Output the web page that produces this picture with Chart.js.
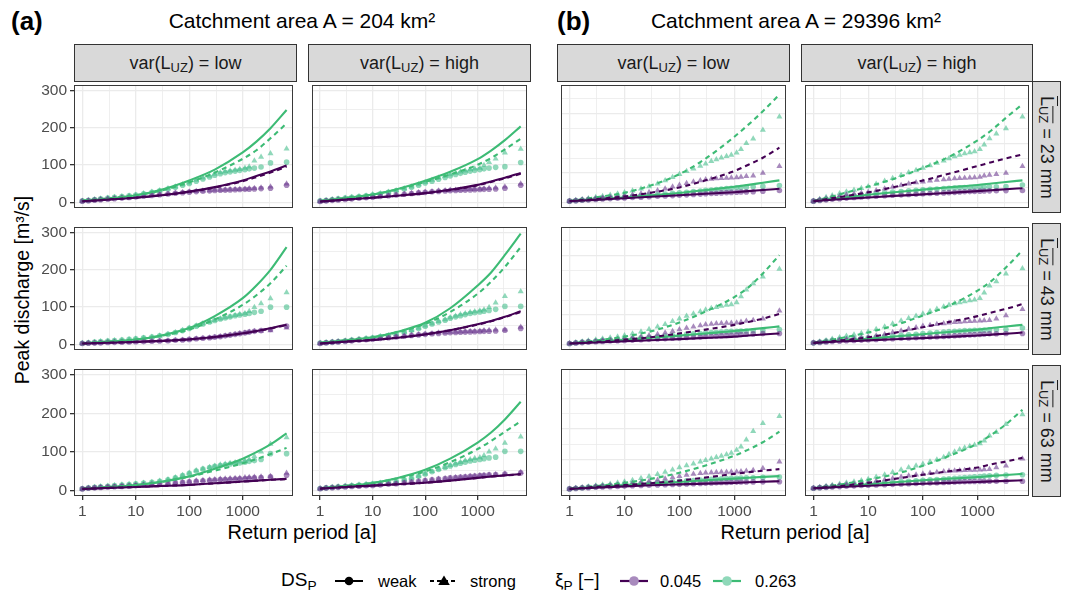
<!DOCTYPE html>
<html>
<head>
<meta charset="utf-8">
<script src="https://cdn.jsdelivr.net/npm/chart.js@4.4.1/dist/chart.umd.min.js"></script>
<style>
  body { margin: 0; width: 1066px; height: 596px; background: #fff; position: relative; overflow: hidden;
         font-family: "Liberation Sans", Arial, Helvetica, sans-serif; color: #000; }
  .abs { position: absolute; white-space: nowrap; }
  canvas.panel { position: absolute; }
  .strip { position: absolute; background: #d9d9d9; border: 1px solid #333; box-sizing: border-box;
           display: flex; align-items: center; justify-content: center; font-size: 18px; color: #1a1a1a; white-space: nowrap; }
  .strip.side { writing-mode: vertical-rl; font-size: 18px; }
  .sub { font-size: 0.72em; position: relative; top: 0.28em; }
  .side .sub { top: 0; left: -0.28em; }
  .over { text-decoration: overline; }
  .tag { font-weight: bold; font-size: 26px; }
  .title { font-size: 21px; transform: translateX(-50%); }
  .axtitle { font-size: 20px; transform: translateX(-50%); }
  .leg { font-size: 16.5px; }
  .legt { font-size: 19px; }
</style>
</head>
<body>
<div class="abs tag" style="left:11px;top:6px">(a)</div>
<div class="abs title" style="left:302px;top:9px">Catchment area A = 204 km²</div>
<div class="abs tag" style="left:557px;top:6px">(b)</div>
<div class="abs title" style="left:796px;top:9px">Catchment area A = 29396 km²</div>
<div class="abs" style="left:22px;top:290px;font-size:19.5px;transform:translate(-50%,-50%) rotate(-90deg)">Peak discharge [m³/s]</div>
<div class="abs axtitle" style="left:302px;top:521px">Return period [a]</div>
<div class="abs axtitle" style="left:795px;top:521px">Return period [a]</div>

<!-- legend -->
<div class="abs legt" style="left:281px;top:569px">DS<span class="sub">P</span></div>
<svg class="abs" style="left:334px;top:574px" width="30" height="14">
  <line x1="1" y1="7" x2="29" y2="7" stroke="#000" stroke-width="2"/>
  <circle cx="15" cy="7" r="4.3" fill="#000"/>
</svg>
<div class="abs leg" style="left:378px;top:572px">weak</div>
<svg class="abs" style="left:429px;top:574px" width="30" height="14">
  <line x1="1" y1="7" x2="29" y2="7" stroke="#000" stroke-width="2" stroke-dasharray="4 3"/>
  <polygon points="15,1.5 20.8,11 9.2,11" fill="#000"/>
</svg>
<div class="abs leg" style="left:470px;top:572px">strong</div>
<div class="abs legt" style="left:555px;top:569px">ξ<span class="sub">P</span> [−]</div>
<svg class="abs" style="left:619px;top:574px" width="30" height="14">
  <line x1="1" y1="7" x2="29" y2="7" stroke="#440154" stroke-width="2.2"/>
  <circle cx="15" cy="7" r="4.8" fill="#a88abd"/>
</svg>
<div class="abs leg" style="left:660px;top:572px">0.045</div>
<svg class="abs" style="left:712px;top:574px" width="30" height="14">
  <line x1="1" y1="7" x2="29" y2="7" stroke="#3dbb75" stroke-width="2.2"/>
  <circle cx="15" cy="7" r="4.8" fill="#8fd8b9"/>
</svg>
<div class="abs leg" style="left:755px;top:572px">0.263</div>

<script>
// return periods of the fitted curves and of the empirical (plotting position) points
const T_FIT = [1, 3, 10, 30, 100, 300, 1000, 1800, 3300, 6600];
const T_OBS = [1, 1.3, 1.7, 2.2, 3, 4, 5.5, 7.5, 10, 14, 20, 28, 40, 55, 75, 100, 135, 180, 240, 300,
               380, 470, 580, 720, 880, 1100, 1320, 1650, 2200, 3300, 6600];

// x grid (log) and labels
const X_GRID = [1, 3.1623, 10, 31.623, 100, 316.23, 1000, 3162.3];
const X_LABELS = ["1", "", "10", "", "100", "", "1000", ""];

// each block: [weak/0.045, strong/0.045, weak/0.263, strong/0.263]
// (a) A = 204 km²
const fitA23Low = [
  [3, 7.5, 12.5, 19, 29, 41, 59, 71, 83, 99],
  [3, 7.5, 12.5, 19, 28.5, 40, 57, 68, 80, 96],
  [4, 10, 19, 34, 59, 88, 134, 163, 199, 248],
  [5, 11, 19, 32, 54, 80, 117, 140, 172, 212]
];
const obsA23Low = [
  [3,4.5,6,7,8.5,10,11.5,13,14.5,16.5,18.5,20.5,22.5,24.5,26,27.5,29,30,31,32,32.5,33,33.5,34,34.5,35,35.5,36,37,38,46],
  [3,4.5,6,7.5,9,10.5,12,13.5,15,17,19,21,23,25,27,28.5,30,31,32,33,33.5,34,34.5,35,35.5,36,37,38,39,42,50],
  [4,5.5,7.5,9.5,11.5,13.5,15.5,17.5,19.5,23,27,31,36,41,46,51,57,63,68,73,77,80,82,84,86,88,90,92,95,106,108],
  [4,6,8,10,12,14,16,18,20,24,28,32,37,42,48,53,60,66,71,76,80,83,85,87,89,92,96,112,122,131,144]
];
const fitA23High = [
  [2.5, 7.5, 12.5, 18, 25, 34, 47, 56, 66, 79],
  [2.5, 7.5, 12.5, 18, 24.5, 33, 46, 55, 64.5, 77],
  [4, 12, 21, 36, 58, 82, 116, 139, 167, 204],
  [4, 12, 21, 35, 55, 75, 101, 119, 142, 171]
];
const obsA23High = [
  [2.5,4,5.5,6.5,8,9.5,11,12.5,14,16,18,20,22,24,25.5,27,28.5,29.5,30.5,31.5,32,32.5,33,33.5,34,34.5,35,35.5,36,38,46],
  [2.5,4,5.5,7,8.5,10,11.5,13,14.5,16.5,18.5,20.5,22.5,24.5,26.5,28,29.5,31,32,33,33.5,34,34.5,35,35.5,36,37,38,39,42,50],
  [4,5.5,7.5,9.5,11.5,13.5,15.5,17.5,20,23,27,31,36,41,46,52,57,62,67,71,75,78,81,84,86,88,90,92,94,96,107],
  [4,6,8,10,12,14,16,18,21,24,28,32,37,42,48,54,60,66,71,75,79,82,85,88,90,92,100,108,117,133,143]
];
const fitA43Low = [
  [2.5, 4.5, 6.7, 9.5, 13.5, 20, 30, 36, 43.5, 53],
  [2.5, 4.5, 6.7, 9.5, 13.5, 20, 29.5, 35.5, 42.5, 52],
  [2.5, 7.5, 13, 24, 44, 76, 124, 158, 200, 261],
  [2.5, 7.5, 13, 23, 40, 67, 106, 132, 164, 211]
];
const obsA43Low = [
  [2.5,3,3.5,4,5,5.5,6,6.5,7,7.5,8.5,9,10,11,12,13.5,15,16.5,18,19.5,21,23,25,27,29,31,33,35,37,40,49],
  [2.5,3,3.5,4,5,5.5,6,6.5,7,7.5,8.5,9,10,11,12,13.5,15,16.5,18,19.5,21,23,25,27,29,31,33,35,36,37,45],
  [3,4.5,6,7.5,9,10.5,12,13.5,15,17.5,20,23,27,32,37,43,49,55,60,64,68,71,74,77,79,81,83,86,89,100,100],
  [3,4.5,6,7.5,9,10.5,12,13.5,15,17.5,20,23,27,32,38,44,50,56,61,65,69,72,75,78,81,83,89,100,110,123,139]
];
const fitA43High = [
  [2.5, 7.5, 12, 18, 27, 38, 54, 63, 74, 89],
  [2.5, 7.5, 12, 18, 27, 38, 53, 62, 73, 87],
  [4, 11, 19, 34, 58, 97, 158, 193, 240, 297],
  [4, 11, 19, 33, 55, 87, 136, 168, 208, 261]
];
const obsA43High = [
  [2.5,4,5.5,6.5,8,9.5,11,12.5,14,16,18,20,22,24,25.5,27,28.5,29.5,30.5,31.5,32,32.5,33,33.5,34,34.5,35,35.5,36,38,43],
  [2.5,4,5.5,7,8.5,10,11.5,13,14.5,16.5,18.5,20.5,22.5,24.5,26.5,28,29.5,31,32,33,33.5,34,34.5,35,35.5,36,37,38,39,39,47],
  [3.5,5,6.5,8,10,12,14,16,18,21,24,28,33,38,43,49,55,60,65,70,74,77,80,83,85,87,89,91,94,102,102],
  [3.5,5,6.5,8,10,12,14,16,18,21,24,28,33,38,44,50,56,62,67,72,76,80,83,86,88,90,93,100,112,129,142]
];
const fitA63Low = [
  [3.4, 6, 8.4, 11, 14, 18, 22.5, 25, 27.3, 29.5],
  [3.4, 6, 8.4, 11, 14, 18, 22.3, 24.7, 27, 29],
  [3.4, 8, 13.5, 22, 36, 56, 82, 99, 119, 148],
  [3.4, 8, 13.5, 21.5, 35, 51, 70, 81, 94, 110]
];
const obsA63Low = [
  [3.5,5,6,7,8,9,10,11,12,13,14.5,16,17.5,19,20.5,22,23.5,24.5,25.5,26.5,27.5,28,28.5,29,29.5,30,31,32,33,35,39],
  [3.5,5,6,7,8,9,10,11,12,13.5,15,16.5,18,20,21.5,23,24.5,26,27,28,29,30,30.5,31,32,33,34,34.5,35,36,45],
  [4,6,7.5,9,10.5,12,13.5,15,16.5,18.5,20.5,23,27,32,38,44,50,55,59,62,64,66,68,70,71,73,75,77,80,95,95],
  [4,6,8,9.5,11,12.5,14,15.5,17,19,21,24,28,33,39,45,51,56,60,63,66,68,70,72,74,76,80,88,100,120,137]
];
const fitA63High = [
  [4.2, 8.4, 12, 15.5, 19.5, 25, 32, 35.5, 39, 42],
  [4.2, 8.4, 12, 15.5, 19.5, 25, 32, 35.5, 38.5, 41],
  [5, 11, 19, 32, 53, 82, 124, 150, 184, 230],
  [5, 11, 19, 31, 49, 73, 107, 128, 152, 179]
];
const obsA63High = [
  [4,5.5,6.5,7.5,8.5,9.5,10.5,11.5,12.5,14,15.5,17,19,21,23,25,27,29,30.5,32,33,34,35,36,37,38,39,40,41,42,45],
  [4,5.5,6.5,7.5,8.5,9.5,10.5,11.5,12.5,14,15.5,17,19,21,23,25,27,29,30.5,32,33,34,35,36,37,38,39,40,41,43,47],
  [4.5,6,7.5,9,10.5,12,13.5,15,16.5,18.5,21,23.5,27,31,36,42,48,54,59,63,67,70,73,76,78,80,82,84,86,101,101],
  [4.5,6,8,9.5,11,12.5,14,15.5,17,19,21.5,24,28,32,37,43,49,55,60,65,69,73,77,80,83,85,90,100,108,123,139]
];

// (b) A = 29396 km²
const fitB23Low = [
  [42, 85, 140, 190, 240, 290, 345, 380, 418, 460],
  [42, 115, 200, 325, 505, 745, 1060, 1275, 1510, 1850],
  [42, 100, 165, 240, 320, 415, 530, 592, 665, 745],
  [42, 170, 325, 570, 955, 1480, 2220, 2630, 3080, 3650]
];
const obsB23Low = [
  [42,55,70,85,100,115,128,140,150,163,176,190,205,218,230,242,255,268,280,290,300,310,320,330,338,345,350,355,360,380,400],
  [42,60,85,105,130,155,180,200,225,260,300,345,400,460,525,590,650,700,740,770,790,805,815,825,835,845,860,880,900,990,1220],
  [42,60,80,100,120,140,155,170,185,205,225,245,265,285,305,325,345,365,385,405,420,435,450,465,480,495,505,515,525,540,570],
  [42,70,100,130,170,210,250,290,335,395,465,540,630,740,850,955,1050,1140,1230,1310,1390,1450,1510,1560,1600,1680,1800,2000,2150,2450,2900]
];
const fitB23High = [
  [42, 105, 165, 220, 270, 322, 380, 412, 445, 480],
  [42, 180, 340, 520, 740, 970, 1230, 1360, 1490, 1620],
  [42, 150, 260, 345, 430, 510, 590, 640, 690, 745],
  [42, 270, 535, 800, 1165, 1540, 2100, 2440, 2860, 3320]
];
const obsB23High = [
  [42,65,85,105,125,145,165,180,195,210,225,240,255,268,280,290,300,310,320,330,340,350,358,365,372,380,385,390,395,398,400],
  [42,90,130,170,215,255,290,320,350,400,460,520,580,630,670,700,730,755,775,790,805,815,825,835,845,860,900,930,955,990,1220],
  [42,75,105,135,165,195,225,250,275,300,325,350,370,390,410,425,440,455,465,475,485,495,500,505,510,515,520,525,530,535,590],
  [42,110,170,230,300,360,420,480,535,620,720,820,920,1010,1090,1165,1250,1330,1410,1480,1550,1600,1650,1690,1720,1800,1950,2160,2320,2500,2900]
];
const fitB43Low = [
  [31, 65, 105, 142, 178, 220, 262, 298, 332, 370],
  [31, 84, 157, 240, 370, 500, 660, 760, 870, 1030],
  [31, 95, 157, 225, 295, 370, 450, 500, 550, 610],
  [31, 130, 262, 440, 740, 1110, 1600, 1930, 2400, 3020]
];
const obsB43Low = [
  [31,45,60,75,88,100,112,122,132,145,158,170,183,195,208,220,232,244,255,265,275,285,295,305,315,325,335,345,355,365,370],
  [31,50,70,90,110,130,150,170,195,225,260,300,345,390,440,500,550,600,640,670,690,705,715,720,725,735,760,790,820,870,1135],
  [31,55,75,95,115,135,150,165,180,200,220,240,260,280,300,320,340,355,370,385,400,410,420,430,440,445,450,455,460,470,505],
  [31,60,90,120,155,190,225,260,300,360,430,510,600,680,780,870,960,1040,1110,1170,1220,1260,1300,1330,1350,1420,1620,1850,2060,2290,2550]
];
const fitB43High = [
  [52, 95, 136, 175, 212, 255, 298, 330, 362, 400],
  [52, 130, 240, 390, 580, 760, 955, 1080, 1200, 1365],
  [52, 125, 190, 265, 345, 420, 500, 555, 605, 660],
  [52, 205, 400, 640, 975, 1310, 1820, 2150, 2600, 3180]
];
const obsB43High = [
  [52,65,80,95,110,122,134,145,155,167,180,192,205,218,230,240,250,260,270,280,290,300,310,320,330,340,350,358,362,366,370],
  [52,75,100,125,150,175,200,225,250,290,340,400,460,520,570,620,650,680,710,730,750,760,770,780,790,800,810,820,870,975,1190],
  [52,80,110,135,160,180,195,210,225,245,265,285,305,325,345,365,385,400,415,430,445,455,465,470,475,480,485,490,495,500,555],
  [52,90,135,180,230,280,330,380,430,510,600,700,800,880,960,1040,1120,1200,1270,1330,1380,1420,1450,1480,1510,1560,1750,1980,2130,2390,2570]
];
const fitB63Low = [
  [42, 85, 126, 160, 190, 215, 240, 260, 278, 295],
  [42, 110, 168, 230, 315, 415, 535, 590, 640, 690],
  [42, 100, 165, 220, 270, 322, 380, 410, 435, 460],
  [42, 137, 240, 370, 570, 810, 1130, 1330, 1570, 1920]
];
const obsB63Low = [
  [42,55,70,82,95,105,115,125,135,145,155,163,172,180,188,196,204,212,220,228,236,244,250,256,261,265,268,270,272,274,275],
  [42,60,80,100,120,140,160,180,200,230,260,295,335,375,420,460,500,530,555,570,580,588,594,598,602,606,615,630,650,715,935],
  [42,60,80,100,120,140,155,170,185,200,215,230,245,260,275,290,305,320,335,345,355,365,372,380,387,393,400,405,410,420,430],
  [42,65,90,115,145,175,205,240,275,330,390,450,520,600,670,745,810,870,930,980,1030,1080,1120,1170,1220,1320,1420,1650,1930,2195,2425]
];
const fitB63High = [
  [63, 105, 147, 180, 210, 240, 270, 288, 305, 325],
  [63, 135, 240, 370, 505, 620, 745, 850, 940, 1060],
  [63, 125, 190, 258, 325, 380, 430, 468, 500, 535],
  [63, 185, 345, 520, 800, 1120, 1530, 1820, 2160, 2635]
];
const obsB63High = [
  [63,78,92,106,118,130,142,152,162,172,182,192,202,212,222,232,240,248,256,263,270,276,281,285,288,290,291,292,293,294,295],
  [63,85,110,135,160,185,210,235,260,300,340,385,430,475,510,540,565,590,610,625,637,647,655,660,665,670,680,690,745,800,1030],
  [63,85,105,125,145,165,180,195,210,228,245,262,280,295,310,325,340,352,364,376,388,400,412,424,436,448,460,472,484,495,505],
  [63,95,130,165,200,240,280,320,360,430,510,590,670,740,800,860,930,1000,1080,1180,1260,1330,1390,1440,1480,1530,1620,1780,1900,2160,2480]
];

const COL_HEADS = ["low", "high"];
const ROW_HEADS = ["23", "43", "63"];

// styles per series, same order as the blocks above
const SERIES = [
  { line: "#440154", pts: "rgba(110,60,145,0.6)", dash: [], shape: "circle", r: 2.8 },
  { line: "#440154", pts: "rgba(110,60,145,0.6)", dash: [5, 4], shape: "triangle", r: 3.5 },
  { line: "#3dbb75", pts: "rgba(70,190,140,0.6)", dash: [], shape: "circle", r: 2.8 },
  { line: "#3dbb75", pts: "rgba(70,190,140,0.6)", dash: [5, 4], shape: "triangle", r: 3.5 }
];

// panel layout
const COL_L = [74, 308, 557, 801];
const COL_R = [297, 531, 790, 1033];
const ROW_T = [81, 223, 365];
const PANEL_H = 131;
const FONT = '"Liberation Sans", Arial, sans-serif';

const PANELS = [
  { fit: fitA23Low,  obs: obsA23Low,  col: 0, row: 0 }, { fit: fitA23High, obs: obsA23High, col: 1, row: 0 },
  { fit: fitA43Low,  obs: obsA43Low,  col: 0, row: 1 }, { fit: fitA43High, obs: obsA43High, col: 1, row: 1 },
  { fit: fitA63Low,  obs: obsA63Low,  col: 0, row: 2 }, { fit: fitA63High, obs: obsA63High, col: 1, row: 2 },
  { fit: fitB23Low,  obs: obsB23Low,  col: 2, row: 0 }, { fit: fitB23High, obs: obsB23High, col: 3, row: 0 },
  { fit: fitB43Low,  obs: obsB43Low,  col: 2, row: 1 }, { fit: fitB43High, obs: obsB43High, col: 3, row: 1 },
  { fit: fitB63Low,  obs: obsB63Low,  col: 2, row: 2 }, { fit: fitB63High, obs: obsB63High, col: 3, row: 2 }
];

// frame around each panel
const panelFrame = {
  id: "panelFrame",
  afterDatasetsDraw(chart) {
    const { ctx, chartArea: a } = chart;
    ctx.save();
    ctx.strokeStyle = "#3a3a3a";
    ctx.lineWidth = 1;
    ctx.strokeRect(a.left + 0.5, a.top + 0.5, a.width - 1, a.height - 1);
    ctx.restore();
  }
};

function addStrips() {
  for (let c = 0; c < 4; c++) {
    const d = document.createElement("div");
    d.className = "strip";
    d.style.left = COL_L[c] + "px";
    d.style.top = "44px";
    d.style.width = (COL_R[c] - COL_L[c]) + "px";
    d.style.height = "38px";
    d.innerHTML = '<span>var(L<span class="sub">UZ</span>) = ' + COL_HEADS[c % 2] + "</span>";
    document.body.appendChild(d);
  }
  for (let r = 0; r < 3; r++) {
    const d = document.createElement("div");
    d.className = "strip side";
    d.style.left = "1032px";
    d.style.top = ROW_T[r] + "px";
    d.style.width = "29px";
    d.style.height = (PANEL_H + 1) + "px";
    d.innerHTML = '<span><span class="over">L<span class="sub">UZ</span></span>&nbsp;= ' + ROW_HEADS[r] + " mm</span>";
    document.body.appendChild(d);
  }
}

function makePanel(p) {
  const big = p.col >= 2;
  const leftAxis = p.col === 0;
  const bottom = p.row === 2;
  const axW = leftAxis ? 34 : 0;
  const axH = bottom ? 30 : 0;
  const plotW = COL_R[p.col] - COL_L[p.col];

  const cv = document.createElement("canvas");
  cv.className = "panel";
  cv.width = plotW + axW;
  cv.height = PANEL_H + axH;
  cv.style.left = (COL_L[p.col] - axW) + "px";
  cv.style.top = ROW_T[p.row] + "px";
  document.body.appendChild(cv);

  const yMin = big ? -190 : -15;
  const yMax = big ? 3970 : 315;
  const yStep = big ? 500 : 50;
  const yTop = big ? 3500 : 300;
  const yGrid = [];
  for (let v = 0; v <= yTop; v += yStep) yGrid.push(v);

  const datasets = [];
  // fitted curves first so they sit on top of the points
  p.fit.forEach((vals, i) => {
    const s = SERIES[i];
    datasets.push({
      data: T_FIT.map((t, k) => ({ x: t, y: vals[k] })),
      borderColor: s.line,
      borderWidth: 2.1,
      borderDash: s.dash,
      pointRadius: 0,
      cubicInterpolationMode: "monotone",
      fill: false
    });
  });
  p.obs.forEach((vals, i) => {
    const s = SERIES[i];
    datasets.push({
      data: T_OBS.map((t, k) => ({ x: t, y: vals[k] })),
      showLine: false,
      pointStyle: s.shape,
      pointRadius: s.r,
      pointBackgroundColor: s.pts,
      pointBorderWidth: 0,
      pointBorderColor: "rgba(0,0,0,0)"
    });
  });

  new Chart(cv.getContext("2d"), {
    type: "line",
    data: { datasets },
    options: {
      responsive: false,
      animation: false,
      devicePixelRatio: 1,
      layout: { padding: 0 },
      plugins: { legend: { display: false }, tooltip: { enabled: false } },
      scales: {
        x: {
          type: "logarithmic",
          min: 0.73,
          max: 8700,
          afterBuildTicks: s => { s.ticks = X_GRID.map(v => ({ value: v })); },
          afterFit: s => { s.height = axH; s.paddingLeft = 0; s.paddingRight = 0; },
          ticks: {
            display: bottom, autoSkip: false, maxRotation: 0, padding: 2,
            color: "#4d4d4d", font: { size: 15.5, family: FONT },
            callback: (v, i) => X_LABELS[i]
          },
          grid: {
            color: "#ebebeb",
            lineWidth: c => (c.index % 2 === 0 ? 1.3 : 0.8),
            drawTicks: bottom,
            tickLength: 4,
            tickColor: c => (c.index % 2 === 0 ? "#333" : "rgba(0,0,0,0)")
          },
          border: { display: false }
        },
        y: {
          type: "linear",
          min: yMin,
          max: yMax,
          afterBuildTicks: s => { s.ticks = yGrid.map(v => ({ value: v })); },
          afterFit: s => { s.width = axW; s.paddingTop = 0; s.paddingBottom = 0; },
          ticks: {
            display: leftAxis, padding: 3,
            color: "#4d4d4d", font: { size: 15.5, family: FONT },
            callback: v => (v % (2 * yStep) === 0 ? String(v) : "")
          },
          grid: {
            color: "#ebebeb",
            lineWidth: c => (c.tick && c.tick.value % (2 * yStep) === 0 ? 1.3 : 0.8),
            drawTicks: leftAxis,
            tickLength: 4,
            tickColor: c => (c.tick && c.tick.value % (2 * yStep) === 0 ? "#333" : "rgba(0,0,0,0)")
          },
          border: { display: false }
        }
      }
    },
    plugins: [panelFrame]
  });
}

addStrips();
PANELS.forEach(makePanel);
</script>
</body>
</html>
